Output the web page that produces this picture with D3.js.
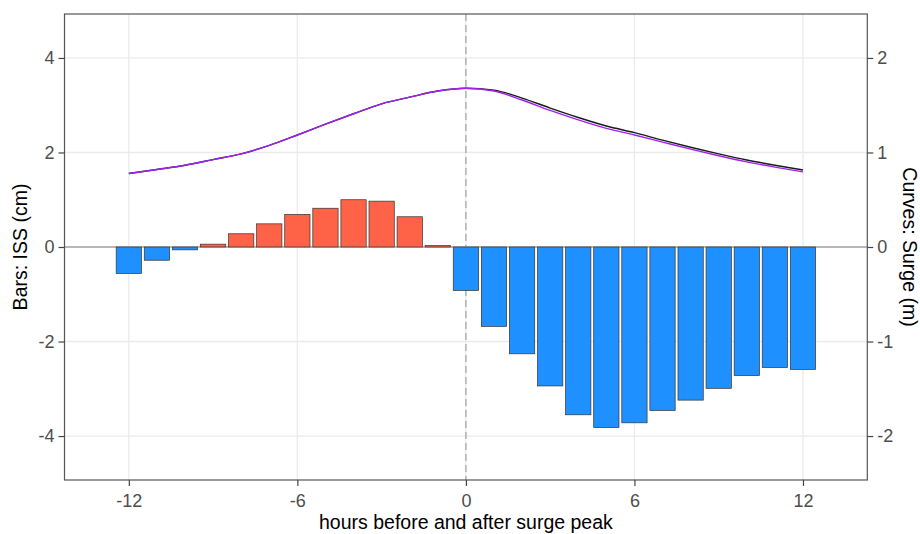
<!DOCTYPE html>
<html>
<head>
	<meta charset="utf-8" />
	<title>ISS and surge around surge peak</title>
	<script src="https://d3js.org/d3.v7.min.js"></script>
	<style>
		body, html {
			margin: 0;
			background: #fff;
		}
		svg text {
			font-family: "Liberation Sans", Arial, sans-serif;
		}
	</style>
</head>
<body>
	<svg id="chart" width="920" height="534"></svg>
	<script>
		// hours relative to surge peak
		var hours = [-12, -11, -10, -9, -8, -7, -6, -5, -4, -3, -2, -1, 0, 1, 2, 3, 4, 5, 6, 7, 8, 9, 10, 11, 12];

		// bars: ISS (cm)
		var iss = [-0.56, -0.28, -0.06, 0.06, 0.28, 0.49, 0.69, 0.82, 1.00, 0.97, 0.64, 0.03,
			-0.92, -1.68, -2.26, -2.94, -3.55, -3.82, -3.72, -3.46, -3.24, -2.99, -2.72, -2.55, -2.59];

		// curves: surge (m)
		var surgeBlack = [0.778, 0.82, 0.865, 0.925, 0.985, 1.075, 1.185, 1.30, 1.41, 1.515, 1.585, 1.65,
			1.68, 1.66, 1.575, 1.47, 1.37, 1.28, 1.21, 1.13, 1.055, 0.985, 0.92, 0.865, 0.815];
		var surgePurple = [0.778, 0.82, 0.865, 0.925, 0.985, 1.075, 1.185, 1.30, 1.41, 1.515, 1.585, 1.65,
			1.68, 1.65, 1.555, 1.445, 1.345, 1.255, 1.185, 1.11, 1.035, 0.965, 0.90, 0.845, 0.795];

		var xTicks = [-12, -6, 0, 6, 12];
		var yTicks = [-4, -2, 0, 2, 4];
		var y2Ticks = [-2, -1, 0, 1, 2];

		// panel edges (note: "top" is reserved on window)
		var pLeft = 64.5, pRight = 867.3, pTop = 14, pBottom = 480;

		var svg = d3.select("#chart");

		var x = d3.scaleLinear().domain([-14.29, 14.29]).range([pLeft, pRight]);
		var y = d3.scaleLinear().domain([-4.93, 4.93]).range([pBottom, pTop]);
		var y2 = d3.scaleLinear().domain([-2.465, 2.465]).range([pBottom, pTop]);

		// grid
		var grid = svg.append("g");
		grid.selectAll(".gx").data(xTicks).enter().append("line")
			.attr("x1", function(d) { return x(d); }).attr("x2", function(d) { return x(d); })
			.attr("y1", pTop).attr("y2", pBottom)
			.attr("stroke", "#ebebeb").attr("stroke-width", 1.3);
		grid.selectAll(".gy").data(yTicks).enter().append("line")
			.attr("x1", pLeft).attr("x2", pRight)
			.attr("y1", function(d) { return y(d); }).attr("y2", function(d) { return y(d); })
			.attr("stroke", "#ebebeb").attr("stroke-width", 1.3);

		// reference lines
		svg.append("line")
			.attr("x1", pLeft).attr("x2", pRight)
			.attr("y1", y(0)).attr("y2", y(0))
			.attr("stroke", "#a6a6a6").attr("stroke-width", 1.6);
		svg.append("line")
			.attr("x1", x(0)).attr("x2", x(0))
			.attr("y1", pTop).attr("y2", pBottom)
			.attr("stroke", "#a6a6a6").attr("stroke-width", 1.3)
			.attr("stroke-dasharray", "7,4");

		// bars
		var bw = x(0.45) - x(-0.45);
		svg.append("g").selectAll("rect").data(hours).enter().append("rect")
			.attr("x", function(d) { return x(d) - bw / 2; })
			.attr("width", bw)
			.attr("y", function(d, i) { return y(Math.max(0, iss[i])); })
			.attr("height", function(d, i) { return Math.abs(y(iss[i]) - y(0)); })
			.attr("fill", function(d, i) { return iss[i] > 0 ? "#ff6347" : "#1e90ff"; })
			.attr("stroke", "#333")
			.attr("stroke-width", 0.7);

		// curves
		var line = d3.line()
			.x(function(d) { return x(d[0]); })
			.y(function(d) { return y2(d[1]); })
			.curve(d3.curveMonotoneX);

		svg.append("path")
			.attr("d", line(hours.map(function(h, i) { return [h, surgeBlack[i]]; })))
			.attr("fill", "none").attr("stroke", "#1a1a1a").attr("stroke-width", 1.4);
		svg.append("path")
			.attr("d", line(hours.map(function(h, i) { return [h, surgePurple[i]]; })))
			.attr("fill", "none").attr("stroke", "#a020f0").attr("stroke-width", 1.4);

		// panel border
		svg.append("rect")
			.attr("x", pLeft).attr("y", pTop)
			.attr("width", pRight - pLeft).attr("height", pBottom - pTop)
			.attr("fill", "none").attr("stroke", "#555").attr("stroke-width", 1.2);

		// axes
		var fmt = function(d) { return String(d); };

		var ax = svg.append("g").attr("transform", "translate(0," + pBottom + ")")
			.call(d3.axisBottom(x).tickValues(xTicks).tickSize(6).tickPadding(4).tickFormat(fmt));
		var ay = svg.append("g").attr("transform", "translate(" + pLeft + ",0)")
			.call(d3.axisLeft(y).tickValues(yTicks).tickSize(6).tickPadding(4).tickFormat(fmt));
		var ay2 = svg.append("g").attr("transform", "translate(" + pRight + ",0)")
			.call(d3.axisRight(y2).tickValues(y2Ticks).tickSize(6).tickPadding(4).tickFormat(fmt));

		[ax, ay, ay2].forEach(function(a) {
			a.select(".domain").remove();
			a.selectAll(".tick line").attr("stroke", "#444").attr("stroke-width", 1.2);
			a.selectAll(".tick text")
				.attr("fill", "#4d4d4d")
				.style("font-size", "18px")
				.style("font-family", "'Liberation Sans', Arial, sans-serif");
		});
		ax.selectAll(".tick text").attr("dy", "0.95em");

		// axis titles
		svg.append("text")
			.attr("x", x(0)).attr("y", 529)
			.attr("text-anchor", "middle")
			.style("font-size", "19.5px")
			.attr("fill", "#000")
			.text("hours before and after surge peak");

		svg.append("text")
			.attr("transform", "translate(27," + y(0) + ") rotate(-90)")
			.attr("text-anchor", "middle")
			.style("font-size", "19.5px")
			.attr("fill", "#000")
			.text("Bars: ISS (cm)");

		svg.append("text")
			.attr("transform", "translate(903," + y(0) + ") rotate(90)")
			.attr("text-anchor", "middle")
			.style("font-size", "19.5px")
			.attr("fill", "#000")
			.text("Curves: Surge (m)");
	</script>
</body>
</html>
